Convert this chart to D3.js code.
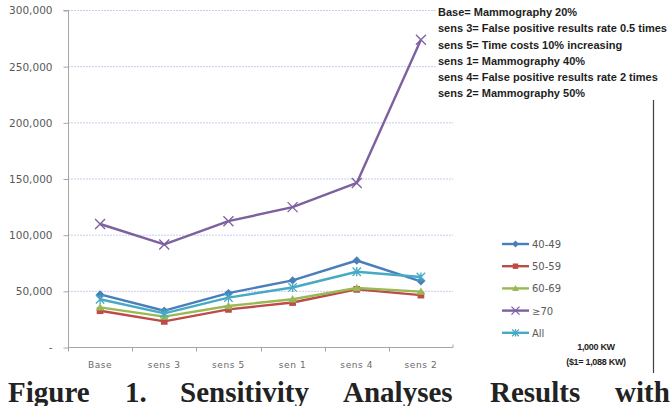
<!DOCTYPE html>
<html><head><meta charset="utf-8">
<script src="https://cdn.jsdelivr.net/npm/d3@7"></script>
<style>
html,body{margin:0;padding:0;background:#fff;}
svg{display:block;}
</style></head>
<body>
<svg id="chart" width="672" height="406"></svg>
<script>
const categories = ["Base", "sens 3", "sens 5", "sen 1", "sens 4", "sens 2"];
const seriesNames = ["40-49", "50-59", "60-69", "\u226570", "All"];
const values4049 = [46800, 32300, 48000, 59300, 77000, 58500];
const values5059 = [32300, 22800, 33500, 39600, 51300, 46200];
const values6069 = [35300, 27000, 36500, 42500, 52500, 49300];
const values70   = [109500, 91300, 112000, 124500, 146000, 273500];
const valuesAll  = [42500, 30000, 44000, 53000, 67000, 62300];
const yTicks = [0, 50000, 100000, 150000, 200000, 250000, 300000];
const notes = [
  "Base= Mammography 20%",
  "sens 3= False positive results rate 0.5 times",
  "sens 5= Time costs 10% increasing",
  "sens 1= Mammography 40%",
  "sens 4= False positive results rate 2 times",
  "sens 2= Mammography 50%"
];
const unitLines = ["1,000 KW", "($1= 1,088 KW)"];
const captionWords = ["Figure", "1.", "Sensitivity", "Analyses", "Results", "with"];

const colors = ["#4A7EBB", "#BE4B48", "#98B954", "#7D60A0", "#46AAC5"];
const markers = ["diamond", "square", "triangle", "x", "star"];
const seriesValues = [values4049, values5059, values6069, values70, valuesAll];

(function () {
const svg = d3.select("#chart");
const pLeft = 68, pRight = 453, pTop = 10, pBottom = 347;

const x = d3.scaleBand().domain(categories).range([pLeft, pRight]).paddingInner(0).paddingOuter(0);
const y = d3.scaleLinear().domain([0, 300000]).range([pBottom, pTop]);

// gridlines
svg.append("g").selectAll("line").data(yTicks.filter(d => d > 0)).join("line")
  .attr("x1", pLeft).attr("x2", pRight)
  .attr("y1", d => y(d) + 0.5).attr("y2", d => y(d) + 0.5)
  .attr("stroke", "#c9c9ee").attr("stroke-width", 1).attr("stroke-dasharray", "2,1");

// y axis
const yAxis = d3.axisLeft(y).tickValues(yTicks).tickSize(5).tickPadding(10)
  .tickFormat(d => d === 0 ? "-" : d3.format(",")(d));
const gy = svg.append("g").attr("transform", `translate(${pLeft + 0.5},0.5)`).call(yAxis);
gy.select(".domain").attr("stroke", "#a6a6a6").attr("d", `M-5,${y(300000)}H0V${pBottom + 4}`);
gy.selectAll(".tick line").attr("stroke", "#a6a6a6");
gy.selectAll(".tick text").attr("fill", "#595959").style("font-family", "DejaVu Sans")
  .style("font-size", "10.5px").attr("x", -16);

// x axis
const xAxis = d3.axisBottom(x).tickSize(0).tickPadding(14);
const gx = svg.append("g").attr("transform", `translate(0,${pBottom + 0.5})`).call(xAxis);
gx.select(".domain").attr("stroke", "#a6a6a6").attr("d", `M${pLeft},0H${pRight}V-3`);
gx.selectAll(".tick text").attr("fill", "#6a6a6a").style("font-family", "DejaVu Sans")
  .style("font-size", "9px").style("letter-spacing", "0.6px");
gx.append("g").selectAll("line").data(categories.slice(1)).join("line")
  .attr("x1", d => Math.round(x(d)) + 0.5).attr("x2", d => Math.round(x(d)) + 0.5)
  .attr("y1", 0).attr("y2", 4).attr("stroke", "#a6a6a6");

const cx = d => x(d) + x.bandwidth() / 2;

function drawMarker(g, type, color, s) {
  if (type === "diamond") {
    g.append("path").attr("d", `M0,${-s}L${s},0L0,${s}L${-s},0Z`).attr("fill", color);
  } else if (type === "square") {
    g.append("rect").attr("x", -s * 0.8).attr("y", -s * 0.8).attr("width", s * 1.6).attr("height", s * 1.6).attr("fill", color);
  } else if (type === "triangle") {
    g.append("path").attr("d", `M0,${-s}L${s},${s * 0.75}L${-s},${s * 0.75}Z`).attr("fill", color);
  } else if (type === "x") {
    g.append("path").attr("d", `M${-s},${-s}L${s},${s}M${-s},${s}L${s},${-s}`).attr("stroke", color).attr("stroke-width", 1.3).attr("fill", "none");
  } else if (type === "star") {
    g.append("path").attr("d", `M${-s},${-s}L${s},${s}M${-s},${s}L${s},${-s}M0,${-s * 1.1}V${s * 1.1}`).attr("stroke", color).attr("stroke-width", 1.3).attr("fill", "none");
  }
}

const line = d3.line().x(d => cx(d.c)).y(d => y(d.v));
[0, 1, 2, 3, 4].forEach(i => {
  const data = categories.map((c, j) => ({c, v: seriesValues[i][j]}));
  svg.append("path").datum(data).attr("d", line).attr("fill", "none")
    .attr("stroke", colors[i]).attr("stroke-width", 2.4).attr("stroke-linejoin", "round");
  data.forEach(d => {
    const g = svg.append("g").attr("transform", `translate(${cx(d.c)},${y(d.v)})`);
    drawMarker(g, markers[i], colors[i], i === 3 ? 5 : 4.2);
  });
});

// notes text box
const notesG = svg.append("g");
notesG.append("rect").attr("x", 436).attr("y", 2).attr("width", 236).attr("height", 100).attr("fill", "#fff");
const noteText = notesG.append("g").attr("transform", "translate(438,0)");
notes.forEach((t, i) => {
  noteText.append("text").attr("x", 0).attr("y", 16 + i * 16.3)
    .attr("fill", "#1e1e1e").style("font-family", "Liberation Sans").style("font-weight", "bold")
    .style("font-size", "11px").text(t);
});
{
  const w = noteText.node().getBBox().width;
  const k = 229 / w;
  noteText.attr("transform", `translate(438,0) scale(${k},1)`);
}

// right vertical line
svg.append("line").attr("x1", 653.5).attr("x2", 653.5).attr("y1", 100).attr("y2", 373)
  .attr("stroke", "#404040").attr("stroke-width", 1.2);

// legend
const lg = svg.append("g").attr("transform", "translate(502,244)");
seriesNames.forEach((n, i) => {
  const row = lg.append("g").attr("transform", `translate(0,${i * 22.2})`);
  row.append("line").attr("x1", 0).attr("x2", 27).attr("y1", 0).attr("y2", 0)
    .attr("stroke", colors[i]).attr("stroke-width", 2.4);
  const m = row.append("g").attr("transform", "translate(13.5,0)");
  drawMarker(m, markers[i], colors[i], i === 3 ? 4 : 3.4);
  row.append("text").attr("x", 30).attr("y", 4).attr("fill", "#595959")
    .style("font-family", "DejaVu Sans").style("font-size", "10px").text(n);
});

// unit note
unitLines.forEach((t, i) => {
  svg.append("text").attr("x", 596).attr("y", 350 + i * 14.5).attr("text-anchor", "middle")
    .attr("fill", "#1e1e1e").style("font-family", "Liberation Sans").style("font-weight", "bold")
    .style("font-size", "9px").style("letter-spacing", "-0.3px").text(t);
});

// caption, justified
const capXs = [8, 125, 180, 343, 490, 615];
captionWords.forEach((w, i) => {
  svg.append("text").attr("x", capXs[i]).attr("y", 402)
    .attr("fill", "#222").style("font-family", "Liberation Serif").style("font-weight", "bold")
    .style("font-size", "29px").text(w);
});
})();
</script>
</body></html>
